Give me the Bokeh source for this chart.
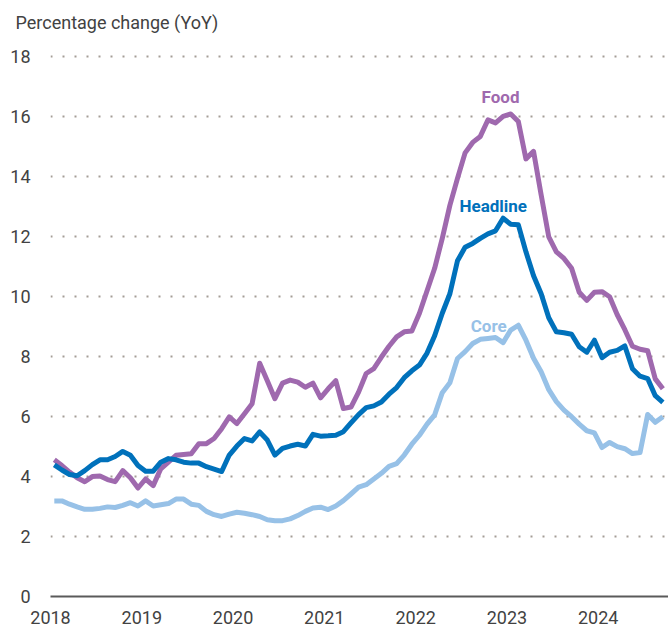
import pandas as pd
from bokeh.plotting import figure
from bokeh.models import FixedTicker, Range1d, Label
from bokeh.embed import file_html
from bokeh.resources import INLINE

# Monthly data, Jan 2018 - Sep 2024 (year-on-year % change)
months = pd.date_range("2018-01-01", periods=81, freq="MS")

food = [4.56, 4.37, 4.15, 3.96, 3.83, 4.0, 4.02, 3.9, 3.83, 4.2, 3.96, 3.62,
        3.92, 3.7, 4.26, 4.48, 4.71, 4.74, 4.76, 5.1, 5.1, 5.27, 5.6, 5.99,
        5.77, 6.1, 6.43, 7.78, 7.2, 6.6, 7.12, 7.22, 7.15, 6.98, 7.12, 6.63,
        6.93, 7.2, 6.27, 6.32, 6.82, 7.44, 7.6, 7.99, 8.35, 8.66, 8.83, 8.86,
        9.45, 10.2, 10.95, 11.95, 13.05, 13.95, 14.8, 15.15, 15.35, 15.9, 15.8, 16.02,
        16.1, 15.85, 14.6, 14.85, 13.4, 12.0, 11.5, 11.28, 10.95, 10.15, 9.88, 10.15,
        10.17, 10.0, 9.4, 8.9, 8.35, 8.25, 8.2, 7.26, 6.93]

headline = [4.39, 4.22, 4.07, 4.03, 4.2, 4.4, 4.56, 4.56, 4.67, 4.84, 4.71, 4.37,
            4.18, 4.18, 4.48, 4.6, 4.56, 4.48, 4.45, 4.45, 4.33, 4.25, 4.17, 4.72,
            5.02, 5.27, 5.19, 5.49, 5.22, 4.72, 4.94, 5.02, 5.08, 5.02, 5.41, 5.35,
            5.36, 5.38, 5.5, 5.79, 6.07, 6.3, 6.36, 6.49, 6.75, 6.97, 7.3, 7.53,
            7.72, 8.12, 8.7, 9.45, 10.1, 11.2, 11.65, 11.78, 11.95, 12.1, 12.2, 12.62,
            12.42, 12.4, 11.5, 10.7, 10.1, 9.3, 8.83, 8.8, 8.75, 8.33, 8.15, 8.55,
            7.97, 8.15, 8.21, 8.36, 7.6, 7.35, 7.27, 6.7, 6.48]

core = [3.19, 3.19, 3.08, 2.99, 2.91, 2.91, 2.94, 2.99, 2.97, 3.04, 3.13, 3.02,
        3.19, 3.02, 3.06, 3.1, 3.25, 3.25, 3.08, 3.04, 2.84, 2.73, 2.67, 2.75,
        2.81, 2.78, 2.73, 2.67, 2.56, 2.53, 2.53, 2.59, 2.7, 2.84, 2.95, 2.98,
        2.9, 3.02, 3.2, 3.42, 3.65, 3.73, 3.92, 4.11, 4.34, 4.43, 4.72, 5.08,
        5.38, 5.75, 6.06, 6.8, 7.13, 7.94, 8.17, 8.44, 8.58, 8.61, 8.64, 8.47,
        8.89, 9.05, 8.55, 7.95, 7.5, 6.9, 6.5, 6.22, 6.0, 5.75, 5.53, 5.46,
        4.97, 5.14, 5.0, 4.93, 4.77, 4.8, 6.07, 5.81, 6.0]

year_ticks = [2018, 2019, 2020, 2021, 2022, 2023, 2024]
y_ticks = [0, 2, 4, 6, 8, 10, 12, 14, 16, 18]

series_names = ["Food", "Headline", "Core"]
series_colors = ["#9f69ae", "#0071bb", "#97c1e7"]

# mid-month position on a fractional-year axis
x = [d.year + (d.month - 0.5) / 12 for d in months]

FONT = "Roboto"
TEXT = "#424242"

p = figure(width=668, height=626, output_backend="svg", toolbar_location=None,
           x_range=Range1d(2018, 2024.77), y_range=Range1d(0, 18.55),
           min_border_left=50, min_border_right=0, min_border_top=40,
           min_border_bottom=30)
p.outline_line_color = None
p.background_fill_color = "white"
p.border_fill_color = "white"

p.title.text = "Percentage change (YoY)"
p.title.align = "left"
p.title.offset = -35
p.title.standoff = 16
p.title.text_font = FONT
p.title.text_font_style = "normal"
p.title.text_font_size = "18px"
p.title.text_color = TEXT

# axes
p.xaxis.ticker = FixedTicker(ticks=year_ticks)
p.xaxis.major_label_overrides = {t: str(t) for t in year_ticks}
p.xaxis.axis_line_color = "#5a5a5a"
p.xaxis.axis_line_width = 2
p.xaxis.major_tick_line_color = None
p.xaxis.minor_tick_line_color = None
p.xaxis.major_label_standoff = 8
p.xaxis.major_label_text_font = FONT
p.xaxis.major_label_text_font_size = "18px"
p.xaxis.major_label_text_color = TEXT

p.yaxis.ticker = FixedTicker(ticks=y_ticks)
p.yaxis.axis_line_color = None
p.yaxis.major_tick_line_color = None
p.yaxis.minor_tick_line_color = None
p.yaxis.major_label_standoff = 14
p.yaxis.major_label_text_font = FONT
p.yaxis.major_label_text_font_size = "18px"
p.yaxis.major_label_text_color = TEXT

p.xgrid.grid_line_color = None
p.ygrid.ticker = FixedTicker(ticks=y_ticks[1:])
p.ygrid.grid_line_color = "#a49d96"
p.ygrid.grid_line_width = 1.8
p.ygrid.grid_line_dash = "2 10"

for name, vals, col in zip(series_names, [food, headline, core], series_colors):
    p.line(x, vals, line_color=col, line_width=5, line_join="round")

label_pos = {"Food": (2022.93, 16.65), "Headline": (2022.85, 13.04), "Core": (2022.8, 9.03)}
for name, col in zip(series_names, series_colors):
    lx, ly = label_pos[name]
    p.add_layout(Label(x=lx, y=ly, text=name, text_align="center",
                       text_baseline="middle", text_font=FONT,
                       text_font_style="bold", text_font_size="17px",
                       text_color=col))

open("out.html", "w").write(file_html(p, INLINE))
